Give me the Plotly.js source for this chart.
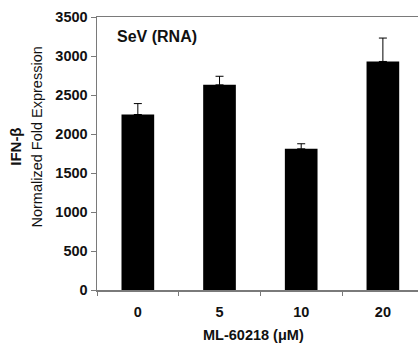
<!DOCTYPE html>
<html><head><meta charset="utf-8">
<script src="https://cdn.plot.ly/plotly-3.0.1.min.js"></script>
<style>html,body{margin:0;padding:0;background:#fff;overflow:hidden}#chart{width:418px;height:349px}</style>
</head><body><div id="chart"></div>
<script>
const categories = ['0', '5', '10', '20'];
const values = [2250, 2630, 1810, 2930];
const errorsUp = [140, 110, 65, 300];
const yTicks = [0, 500, 1000, 1500, 2000, 2500, 3000, 3500];

const font = 'Liberation Sans, Arial, sans-serif';
const axisColor = '#7a7a7a';

const trace = {
  type: 'bar',
  x: categories,
  y: values,
  width: 0.4,
  marker: {color: '#000000', line: {width: 0}},
  error_y: {type: 'data', symmetric: false, array: errorsUp, arrayminus: errorsUp.map(() => 0),
            color: '#000000', thickness: 1, width: 4},
  hoverinfo: 'none'
};

const layout = {
  width: 418, height: 349,
  margin: {l: 97, r: 0, t: 17, b: 59, pad: 0},
  paper_bgcolor: '#ffffff', plot_bgcolor: '#ffffff',
  showlegend: false,
  bargap: 0.6,
  xaxis: {
    type: 'category', range: [-0.5, 3.43], tickson: 'boundaries',
    showline: true, linecolor: axisColor, linewidth: 1.5, mirror: true,
    ticks: 'outside', ticklen: 4, tickcolor: axisColor, tickwidth: 1,
    ticklabelstandoff: 8,
    showgrid: false, zeroline: false,
    tickfont: {family: font, size: 14.5, color: '#111', weight: 'bold'}
  },
  yaxis: {
    range: [0, 3500], tickvals: yTicks, ticktext: yTicks.map(String),
    showline: true, linecolor: axisColor, linewidth: 1.5,
    ticks: 'outside', ticklen: 5, tickcolor: axisColor, tickwidth: 1,
    showgrid: false, zeroline: false,
    tickfont: {family: font, size: 14.5, color: '#111', weight: 'bold'}
  },
  annotations: [
    {text: '<b>SeV (RNA)</b>', xref: 'paper', yref: 'paper', x: 0.056, y: 0.93, xanchor: 'left', yanchor: 'middle',
     showarrow: false, font: {family: font, size: 16, color: '#111'}},
    {text: '<b>ML-60218 (μM)</b>', xref: 'paper', yref: 'paper', x: (253 - 97) / 321, y: -0.166, xanchor: 'center', yanchor: 'middle',
     showarrow: false, font: {family: font, size: 14.5, color: '#111'}},
    {text: '<b>IFN-β</b>', xref: 'paper', yref: 'paper', x: -0.252, y: 0.525, xanchor: 'center', yanchor: 'middle', textangle: -90,
     showarrow: false, font: {family: font, size: 15, color: '#111'}},
    {text: 'Normalized Fold Expression', xref: 'paper', yref: 'paper', x: -0.187, y: 0.562, xanchor: 'center', yanchor: 'middle', textangle: -90,
     showarrow: false, font: {family: font, size: 14.5, color: '#111'}}
  ]
};

Plotly.newPlot('chart', [trace], layout, {staticPlot: true, displayModeBar: false});
</script></body></html>
